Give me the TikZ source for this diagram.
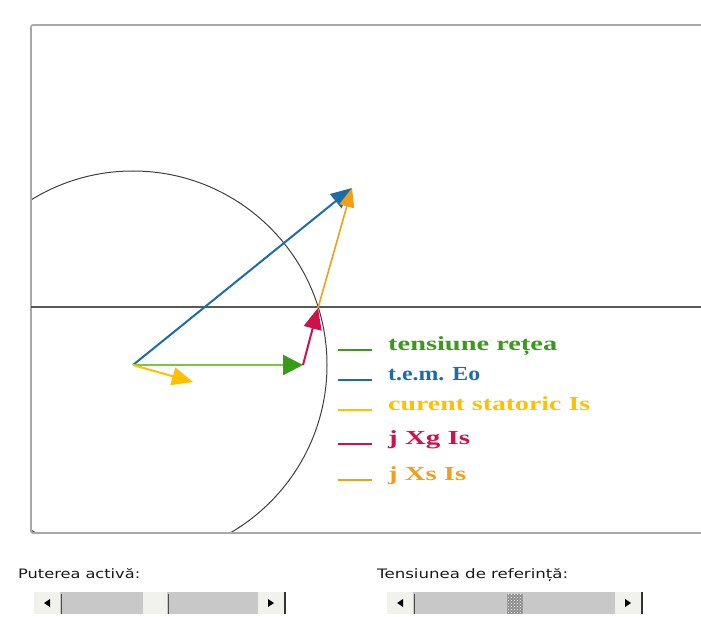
\documentclass[tikz,border=0pt]{standalone}
\usepackage{fontspec}
\setmainfont{Liberation Serif}
\newfontfamily\uifont{DejaVu Sans}
\usetikzlibrary{arrows.meta,patterns}
\definecolor{cgreen}{HTML}{3A9A1A}
\definecolor{cgreenl}{HTML}{7CC444}
\definecolor{cblue}{HTML}{1C6CA8}
\definecolor{cyellow}{HTML}{FFC000}
\definecolor{cred}{HTML}{D0104A}
\definecolor{corange}{HTML}{F0A018}
\definecolor{cframe}{HTML}{A8A8A8}
\definecolor{ctrack}{HTML}{C8C8C8}
\definecolor{cbtn}{HTML}{F2F2EC}
\tikzset{
  vec/.style={line width=2pt,-{Triangle[length=21pt,width=18pt]}},
  legline/.style={line width=2pt},
  legtext/.style={anchor=base west,inner sep=0pt,font=\fontsize{20}{20}\selectfont\bfseries},
  uitext/.style={anchor=base west,inner sep=0pt,font=\uifont\fontsize{13}{14}\selectfont,text=black!90},
  btn/.style={fill=cbtn,draw=none},
  tri/.style={fill=black}
}
\begin{document}
\begin{tikzpicture}[x=1pt,y=-1pt]
\useasboundingbox (0,0) rectangle (701,617);
% frame
\begin{scope}
\clip (31,25) rectangle (702,533);
\draw[black!75,line width=1pt] (133,365) circle (194);
\end{scope}
\draw[cframe,line width=1.6pt,rounded corners=2pt] (701,25) -- (31,25) -- (31,533) -- (701,533);
% axis
\draw[black!65,line width=1.2pt] (31,307) -- (701,307);
% vectors
\coordinate (O) at (133,365);
\coordinate (G) at (303,365);
\coordinate (R) at (318,308);
\coordinate (E) at (352,188);
\coordinate (Y) at (193,382);
\draw[vec,cblue] (O) -- (E);
\draw[vec,corange,line width=1.6pt,-{Triangle[length=19pt,width=15pt]}] (R) -- (E);
\draw[vec,cgreenl,line width=2.4pt,-{Triangle[length=20pt,width=20pt,fill=cgreen,color=cgreen]}] (O) -- (G);
\draw[vec,cred] (G) -- (R);
\draw[vec,cyellow] (O) -- (Y);
% legend
\foreach \y/\c/\w/\t in {350/cgreen/169/{tensiune rețea},380/cblue/92/{t.e.m. Eo},410/cyellow/202/{curent statoric Is},444/cred/82/{j Xg Is},480/corange/78/{j Xs Is}}{
  \draw[legline,\c] (338,\y) -- (372,\y);
  \node[legtext,text=\c] at (388,\y) {\resizebox{\w pt}{\height}{\t}};
}
% bottom controls
\node[uitext] (l1) at (18,578) {\resizebox{122pt}{\height}{Puterea activă:}};
\node[uitext] (l2) at (377,578) {\resizebox{191pt}{\height}{Tensiunea de referință:}};
% scrollbar 1
\fill[ctrack] (34,592) rectangle (285,614);
\fill[btn] (34,592) rectangle (60,614);
\fill[btn] (258,592) rectangle (284,614);
\fill[btn] (143,592) rectangle (167,614);
\draw[black!70,line width=1pt] (61,594) -- (61,614);
\draw[black!70,line width=1pt] (168,594) -- (168,614);
\draw[black!80,line width=1.2pt] (285,592) -- (285,614);
\fill[tri] (44,603) -- (50,599) -- (50,607) -- cycle;
\fill[tri] (274,603) -- (268,599) -- (268,607) -- cycle;
% scrollbar 2
\fill[ctrack] (387,592) rectangle (642,614);
\fill[btn] (387,592) rectangle (413,614);
\fill[btn] (615,592) rectangle (641,614);
\draw[black!70,line width=1pt] (414,594) -- (414,614);
\fill[black!45] (507,594) rectangle (523,614);
\fill[pattern=crosshatch dots,pattern color=white] (507,594) rectangle (523,614);
\draw[black!80,line width=1.2pt] (642,592) -- (642,614);
\fill[tri] (397,603) -- (403,599) -- (403,607) -- cycle;
\fill[tri] (631,603) -- (625,599) -- (625,607) -- cycle;
\end{tikzpicture}
\end{document}
